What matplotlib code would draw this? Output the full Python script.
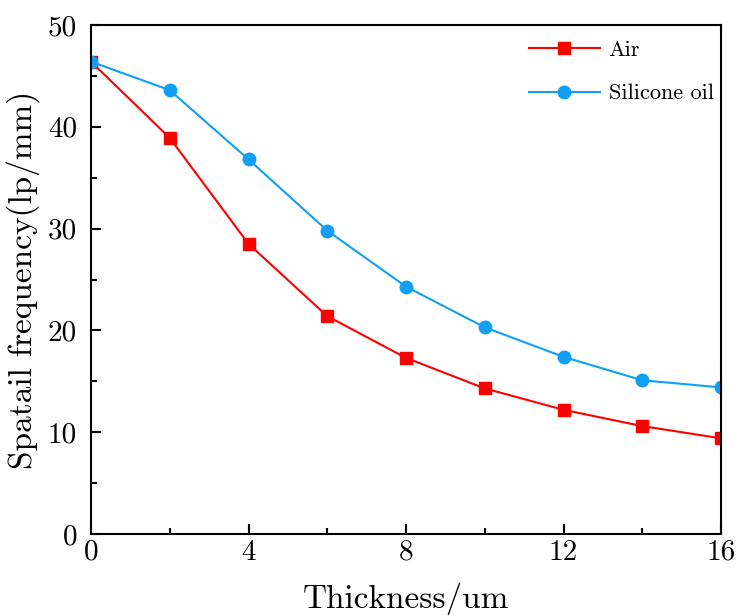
import matplotlib
matplotlib.use('Agg')
import matplotlib.pyplot as plt
import matplotlib.ticker as ticker

plt.rcParams['font.family'] = 'serif'
plt.rcParams['font.serif'] = ['cmr10', 'DejaVu Serif']
plt.rcParams['mathtext.fontset'] = 'cm'
plt.rcParams['axes.unicode_minus'] = False

thickness = [0, 2, 4, 6, 8, 10, 12, 14, 16]
air = [46.4, 38.9, 28.5, 21.4, 17.3, 14.3, 12.2, 10.6, 9.4]
silicone = [46.4, 43.6, 36.8, 29.8, 24.3, 20.3, 17.4, 15.1, 14.4]

fig = plt.figure(figsize=(7.36, 6.15), dpi=100)
ax = fig.add_axes([91/736, 1 - 534/615, 630/736, 509/615])

ax.plot(thickness, air, color='#ff0000', marker='s', markersize=8, lw=1.5, label='Air')
ax.plot(thickness, silicone, color='#0fa0f5', marker='o', markersize=9, lw=1.5, label='Silicone oil')

ax.set_xlim(0, 16)
ax.set_ylim(0, 50)
ax.xaxis.set_major_locator(ticker.MultipleLocator(4))
ax.xaxis.set_minor_locator(ticker.MultipleLocator(2))
ax.yaxis.set_major_locator(ticker.MultipleLocator(10))
ax.yaxis.set_minor_locator(ticker.MultipleLocator(5))
ax.tick_params(which='both', direction='in', labelsize=21, width=1.5)
ax.tick_params(which='major', length=7)
ax.tick_params(which='minor', length=4)
ax.tick_params(axis='x', pad=4)
ax.tick_params(axis='y', pad=10)
for s in ax.spines.values():
    s.set_linewidth(1.5)

ax.set_xlabel('Thickness/um', fontsize=24, labelpad=12)
ax.set_ylabel('Spatail frequency(lp/mm)', fontsize=24, labelpad=6)

ax.legend(loc='upper right', bbox_to_anchor=(1.013, 1.0), frameon=False, fontsize=16,
          handlelength=3.2, borderaxespad=0.2, borderpad=0.5, labelspacing=1.07,
          handletextpad=0.4)

fig.savefig('out.png', dpi=100)
